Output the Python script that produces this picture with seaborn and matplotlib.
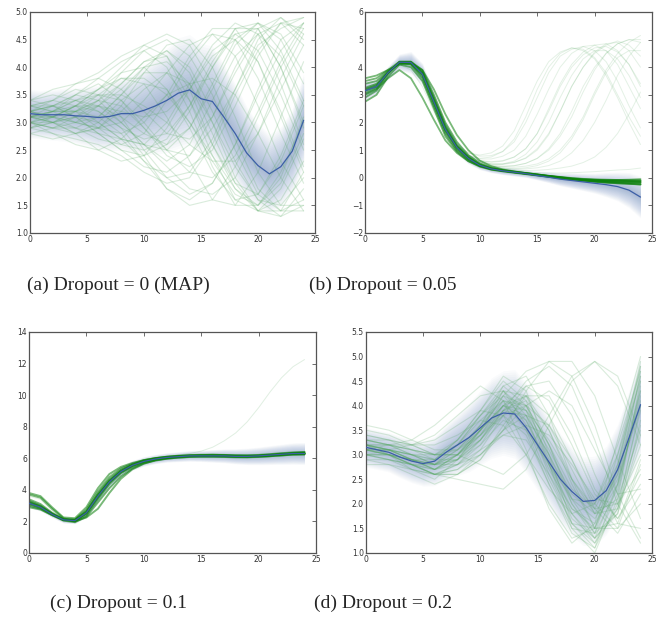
import numpy as np
import pandas as pd
import matplotlib
matplotlib.use("Agg")
import matplotlib.pyplot as plt
import seaborn as sns

## x grids
x_full = list(range(25))          # 0..24
x_half = list(range(0, 25, 2))    # 0,2,..,24

## ---- panel (a) dropout = 0 (MAP) ----
mean_a = [3.16, 3.14, 3.14, 3.14, 3.12, 3.11, 3.09, 3.11, 3.16, 3.16, 3.22, 3.30, 3.40,
          3.53, 3.59, 3.43, 3.38, 3.10, 2.80, 2.45, 2.22, 2.07, 2.20, 2.48, 3.04]
std_a = [0.22, 0.22, 0.23, 0.24, 0.25, 0.27, 0.29, 0.31, 0.33, 0.36, 0.40, 0.44, 0.47,
         0.50, 0.50, 0.50, 0.50, 0.48, 0.45, 0.42, 0.38, 0.36, 0.36, 0.38, 0.42]
samples_a = [
    [3.1, 3.2, 3.4, 3.3, 3.0, 2.6, 2.3, 2.6, 3.4, 4.2, 4.6, 4.2, 3.3],
    [3.0, 2.9, 3.0, 3.3, 3.7, 4.1, 4.2, 3.6, 2.6, 1.8, 1.5, 1.9, 2.8],
    [3.3, 3.4, 3.6, 3.5, 3.1, 2.5, 2.0, 1.7, 1.9, 2.6, 3.5, 4.3, 4.8],
    [3.2, 3.1, 2.9, 2.7, 2.6, 2.8, 3.4, 4.1, 4.6, 4.5, 3.8, 2.8, 1.9],
    [2.9, 2.8, 2.7, 2.6, 2.4, 2.1, 1.9, 2.0, 2.6, 3.5, 4.3, 4.8, 4.7],
    [3.4, 3.6, 3.7, 3.9, 4.2, 4.4, 4.2, 3.4, 2.4, 1.6, 1.4, 1.8, 2.7],
    [3.1, 3.0, 3.2, 3.5, 3.8, 3.7, 3.1, 2.3, 1.6, 1.5, 2.1, 3.1, 4.1],
    [3.0, 3.1, 3.3, 3.6, 4.0, 4.4, 4.6, 4.4, 3.7, 2.7, 1.8, 1.4, 1.6],
    [3.2, 3.3, 3.1, 2.8, 2.5, 2.4, 2.6, 3.2, 4.0, 4.7, 4.8, 4.3, 3.4],
    [3.1, 3.2, 3.3, 3.2, 2.9, 2.4, 1.8, 1.5, 1.6, 2.2, 3.1, 4.0, 4.7],
    [2.8, 2.9, 3.1, 3.4, 3.9, 4.3, 4.5, 4.2, 3.5, 2.5, 1.7, 1.4, 1.4],
    [3.3, 3.2, 3.0, 2.9, 3.0, 3.4, 3.9, 4.4, 4.6, 4.2, 3.3, 2.3, 1.6],
    [3.0, 2.9, 2.8, 2.9, 3.2, 3.6, 3.9, 3.7, 3.0, 2.2, 1.6, 1.5, 2.0],
    [3.2, 3.4, 3.7, 3.8, 3.6, 3.2, 2.8, 2.7, 3.1, 3.9, 4.6, 4.8, 4.4],
    [3.1, 3.0, 2.9, 2.8, 2.7, 2.6, 2.2, 1.8, 1.7, 2.0, 2.8, 3.8, 4.6],
    [3.0, 3.2, 3.5, 3.7, 3.4, 2.9, 2.5, 2.4, 2.9, 3.6, 4.4, 4.7, 4.9],
    [3.2, 3.1, 3.0, 3.1, 3.5, 4.0, 4.3, 4.0, 3.2, 2.3, 1.6, 1.3, 1.5],
    [2.9, 3.0, 3.2, 3.3, 3.1, 2.8, 2.6, 2.9, 3.6, 4.4, 4.8, 4.5, 3.7],
    [3.3, 3.3, 3.4, 3.6, 3.9, 4.0, 3.6, 2.9, 2.1, 1.6, 1.7, 2.4, 3.4],
    [3.0, 2.8, 2.6, 2.5, 2.7, 3.1, 3.5, 3.7, 3.8, 3.5, 2.8, 2.0, 1.4],
    [3.1, 3.2, 3.2, 3.1, 2.8, 2.3, 1.8, 1.6, 1.9, 2.6, 3.6, 4.5, 4.8],
    [3.2, 3.1, 3.3, 3.6, 3.8, 3.8, 3.5, 3.0, 2.4, 1.8, 1.4, 1.6, 2.3],
    [3.1, 3.1, 3.0, 2.9, 2.8, 3.0, 3.5, 4.2, 4.7, 4.7, 4.1, 3.1, 2.1],
    [3.4, 3.5, 3.4, 3.2, 2.9, 2.7, 2.8, 3.3, 4.0, 4.6, 4.7, 4.0, 3.0],
    [3.0, 3.1, 3.3, 3.5, 3.4, 3.0, 2.5, 2.1, 2.0, 2.4, 3.2, 4.1, 4.8],
    [3.2, 3.0, 2.8, 2.9, 3.3, 3.9, 4.4, 4.5, 4.0, 3.1, 2.1, 1.5, 1.5],
    [3.1, 3.3, 3.5, 3.4, 3.0, 2.6, 2.5, 2.9, 3.7, 4.5, 4.8, 4.6, 3.9],
    [2.9, 3.0, 3.1, 3.0, 2.7, 2.3, 2.0, 2.1, 2.7, 3.6, 4.5, 4.9, 4.6],
    [3.3, 3.2, 3.2, 3.4, 3.7, 4.1, 4.3, 3.9, 3.0, 2.0, 1.4, 1.4, 2.1],
    [3.0, 2.9, 2.9, 3.1, 3.5, 3.9, 3.9, 3.4, 2.6, 1.9, 1.7, 2.3, 3.3],
    [3.2, 3.3, 3.5, 3.8, 4.1, 4.3, 4.0, 3.2, 2.2, 1.5, 1.5, 2.1, 3.0],
    [3.1, 3.0, 2.8, 2.5, 2.3, 2.4, 2.9, 3.6, 4.3, 4.6, 4.3, 3.5, 2.5],
    [3.3, 3.4, 3.3, 3.0, 2.7, 2.6, 3.0, 3.7, 4.4, 4.8, 4.6, 3.7, 2.6],
    [2.8, 2.7, 2.8, 3.0, 3.4, 3.7, 3.6, 3.0, 2.3, 1.7, 1.5, 2.0, 3.1],
    [3.1, 3.1, 3.2, 3.4, 3.3, 2.9, 2.4, 2.2, 2.5, 3.3, 4.2, 4.8, 4.9],
    [3.2, 3.3, 3.2, 2.9, 2.6, 2.5, 2.7, 3.3, 4.1, 4.7, 4.7, 4.0, 2.9],
    [3.0, 3.0, 3.1, 3.3, 3.6, 4.0, 4.1, 3.7, 2.8, 1.9, 1.4, 1.3, 1.8],
    [3.4, 3.3, 3.1, 2.8, 2.5, 2.2, 2.1, 2.4, 3.1, 4.0, 4.7, 4.9, 4.5],
    [3.1, 3.2, 3.4, 3.5, 3.5, 3.3, 3.0, 2.6, 2.3, 2.3, 2.8, 3.6, 4.4],
    [2.9, 3.1, 3.3, 3.3, 3.2, 3.1, 3.2, 3.6, 4.2, 4.5, 4.1, 3.2, 2.2],
]

## ---- panel (b) dropout = 0.05 ----
mean_b = [3.15, 3.30, 3.80, 4.18, 4.17, 3.75, 2.75, 1.75, 1.10, 0.70, 0.45, 0.32, 0.25,
          0.20, 0.15, 0.08, 0.02, -0.05, -0.10, -0.15, -0.20, -0.25, -0.32, -0.45, -0.70]
std_b = [0.20, 0.15, 0.12, 0.15, 0.20, 0.20, 0.18, 0.15, 0.12, 0.10, 0.08, 0.07, 0.07,
         0.07, 0.07, 0.08, 0.10, 0.12, 0.14, 0.16, 0.18, 0.22, 0.26, 0.32, 0.38]
bundle_b = [
    [3.15, 3.3, 3.8, 4.18, 4.17, 3.75, 2.75, 1.75, 1.1, 0.7, 0.45, 0.32, 0.25, 0.2, 0.15, 0.1, 0.05, 0.0, -0.05, -0.08, -0.1, -0.12, -0.13, -0.14, -0.15],
    [3.4, 3.5, 3.85, 4.15, 4.1, 3.6, 2.6, 1.6, 1.0, 0.65, 0.42, 0.3, 0.24, 0.19, 0.14, 0.09, 0.04, -0.01, -0.06, -0.1, -0.13, -0.16, -0.18, -0.2, -0.22],
    [2.9, 3.15, 3.75, 4.2, 4.2, 3.85, 2.9, 1.9, 1.2, 0.75, 0.48, 0.34, 0.26, 0.21, 0.16, 0.11, 0.06, 0.01, -0.04, -0.07, -0.09, -0.1, -0.1, -0.1, -0.1],
    [3.6, 3.7, 3.9, 4.1, 4.0, 3.5, 2.5, 1.5, 0.95, 0.6, 0.4, 0.29, 0.23, 0.18, 0.13, 0.08, 0.03, -0.02, -0.07, -0.11, -0.15, -0.18, -0.2, -0.22, -0.25],
    [2.75, 3.0, 3.65, 4.1, 4.15, 3.9, 3.0, 2.0, 1.3, 0.82, 0.52, 0.36, 0.28, 0.22, 0.17, 0.12, 0.07, 0.02, -0.03, -0.06, -0.08, -0.09, -0.08, -0.07, -0.05],
    [3.25, 3.4, 3.82, 4.16, 4.12, 3.7, 2.7, 1.7, 1.05, 0.68, 0.44, 0.31, 0.25, 0.2, 0.15, 0.1, 0.05, 0.0, -0.05, -0.09, -0.12, -0.14, -0.16, -0.17, -0.18],
    [3.0, 3.2, 3.6, 3.9, 3.6, 2.9, 2.1, 1.35, 0.9, 0.6, 0.42, 0.32, 0.26, 0.21, 0.16, 0.11, 0.06, 0.01, -0.04, -0.08, -0.11, -0.13, -0.14, -0.15, -0.16],
    [3.5, 3.6, 3.9, 4.2, 4.2, 3.9, 3.2, 2.3, 1.55, 1.0, 0.62, 0.42, 0.3, 0.23, 0.17, 0.12, 0.07, 0.03, -0.01, -0.04, -0.06, -0.07, -0.08, -0.09, -0.1],
    [3.2, 3.35, 3.8, 4.17, 4.16, 3.78, 2.8, 1.8, 1.12, 0.72, 0.46, 0.33, 0.26, 0.2, 0.15, 0.1, 0.04, -0.01, -0.06, -0.1, -0.14, -0.17, -0.2, -0.22, -0.24],
    [3.05, 3.25, 3.78, 4.18, 4.18, 3.8, 2.85, 1.85, 1.15, 0.74, 0.47, 0.34, 0.27, 0.22, 0.17, 0.12, 0.06, 0.02, -0.02, -0.05, -0.07, -0.09, -0.11, -0.12, -0.13],
]
diverge_b = [
    [3.2, 3.35, 3.8, 4.1, 3.9, 3.3, 2.4, 1.6, 1.15, 0.9, 0.82, 0.9, 1.15, 1.7, 2.6, 3.5, 4.2, 4.55, 4.7, 4.6, 4.3, 3.7, 2.9, 2.0, 1.2],
    [3.1, 3.3, 3.8, 4.15, 4.05, 3.5, 2.55, 1.7, 1.2, 0.9, 0.78, 0.8, 0.95, 1.3, 2.0, 2.9, 3.8, 4.4, 4.65, 4.75, 4.6, 4.2, 3.5, 2.6, 1.8],
    [3.2, 3.35, 3.8, 4.15, 4.1, 3.6, 2.65, 1.72, 1.15, 0.82, 0.68, 0.68, 0.78, 1.0, 1.5, 2.3, 3.2, 4.0, 4.5, 4.75, 4.8, 4.6, 4.1, 3.3, 2.5],
    [3.3, 3.4, 3.85, 4.15, 4.1, 3.6, 2.6, 1.65, 1.1, 0.78, 0.62, 0.58, 0.62, 0.75, 1.05, 1.6, 2.5, 3.4, 4.1, 4.55, 4.8, 4.85, 4.6, 4.1, 3.3],
    [3.0, 3.2, 3.75, 4.15, 4.1, 3.7, 2.75, 1.8, 1.18, 0.8, 0.6, 0.5, 0.5, 0.56, 0.7, 1.0, 1.55, 2.4, 3.3, 4.0, 4.5, 4.8, 4.95, 4.8, 4.4],
    [3.15, 3.3, 3.8, 4.18, 4.15, 3.72, 2.72, 1.72, 1.1, 0.75, 0.55, 0.45, 0.42, 0.44, 0.52, 0.7, 1.05, 1.6, 2.4, 3.3, 4.0, 4.5, 4.85, 5.0, 5.0],
    [3.2, 3.35, 3.8, 4.15, 4.12, 3.7, 2.7, 1.72, 1.1, 0.74, 0.52, 0.42, 0.38, 0.38, 0.42, 0.5, 0.68, 1.0, 1.5, 2.2, 3.1, 3.9, 4.5, 4.9, 5.15],
    [3.1, 3.3, 3.8, 4.16, 4.14, 3.74, 2.76, 1.76, 1.12, 0.74, 0.5, 0.38, 0.33, 0.31, 0.32, 0.36, 0.44, 0.6, 0.9, 1.35, 2.0, 2.8, 3.7, 4.4, 4.9],
    [3.25, 3.38, 3.82, 4.16, 4.12, 3.7, 2.7, 1.7, 1.08, 0.72, 0.5, 0.39, 0.34, 0.33, 0.36, 0.44, 0.6, 0.9, 1.4, 2.1, 3.0, 3.8, 4.35, 4.6, 4.6],
    [3.05, 3.25, 3.78, 4.15, 4.13, 3.76, 2.8, 1.8, 1.15, 0.78, 0.58, 0.5, 0.5, 0.6, 0.85, 1.3, 2.0, 2.9, 3.7, 4.3, 4.6, 4.6, 4.3, 3.7, 2.9],
    [3.2, 3.35, 3.8, 4.15, 4.1, 3.65, 2.65, 1.68, 1.1, 0.8, 0.7, 0.75, 0.95, 1.4, 2.2, 3.2, 4.0, 4.5, 4.7, 4.65, 4.35, 3.8, 3.0, 2.2, 1.5],
    [3.15, 3.3, 3.8, 4.17, 4.14, 3.72, 2.72, 1.72, 1.1, 0.72, 0.48, 0.36, 0.3, 0.27, 0.26, 0.27, 0.3, 0.35, 0.42, 0.55, 0.75, 1.1, 1.6, 2.3, 3.1],
    [3.15, 3.3, 3.8, 4.17, 4.15, 3.74, 2.74, 1.74, 1.1, 0.71, 0.47, 0.34, 0.27, 0.23, 0.2, 0.18, 0.17, 0.17, 0.18, 0.2, 0.22, 0.25, 0.28, 0.3, 0.35],
    [3.1, 3.3, 3.8, 4.16, 4.13, 3.7, 2.7, 1.7, 1.1, 0.75, 0.56, 0.48, 0.48, 0.55, 0.72, 1.05, 1.6, 2.4, 3.3, 4.0, 4.55, 4.85, 4.9, 4.6, 4.0],
    [3.2, 3.35, 3.82, 4.16, 4.12, 3.72, 2.72, 1.72, 1.1, 0.73, 0.52, 0.42, 0.4, 0.43, 0.52, 0.7, 1.0, 1.5, 2.2, 3.1, 3.9, 4.5, 4.85, 5.0, 4.9],
    [3.0, 3.2, 3.75, 4.14, 4.12, 3.72, 2.75, 1.78, 1.16, 0.8, 0.62, 0.56, 0.6, 0.75, 1.05, 1.6, 2.4, 3.3, 4.0, 4.45, 4.7, 4.75, 4.55, 4.1, 3.4],
]

## ---- panel (c) dropout = 0.1 ----
mean_c = [3.15, 2.90, 2.45, 2.10, 2.05, 2.55, 3.60, 4.50, 5.15, 5.55, 5.80, 5.95, 6.05,
          6.10, 6.15, 6.15, 6.15, 6.15, 6.12, 6.12, 6.15, 6.20, 6.25, 6.30, 6.30]
std_c = [0.15, 0.12, 0.10, 0.10, 0.10, 0.15, 0.20, 0.20, 0.18, 0.16, 0.15, 0.15, 0.15,
         0.16, 0.17, 0.18, 0.20, 0.22, 0.24, 0.26, 0.28, 0.30, 0.32, 0.34, 0.35]
bundle_c = [
    [3.1, 2.85, 2.45, 2.1, 2.05, 2.5, 3.5, 4.45, 5.1, 5.5, 5.78, 5.93, 6.03, 6.1, 6.14, 6.15, 6.15, 6.14, 6.12, 6.12, 6.14, 6.18, 6.23, 6.28, 6.3],
    [3.3, 3.0, 2.5, 2.12, 2.1, 2.65, 3.75, 4.65, 5.25, 5.6, 5.86, 6.0, 6.1, 6.16, 6.2, 6.22, 6.22, 6.21, 6.19, 6.19, 6.21, 6.26, 6.32, 6.37, 6.4],
    [3.0, 2.8, 2.4, 2.08, 2.0, 2.4, 3.4, 4.35, 5.05, 5.46, 5.72, 5.88, 5.98, 6.04, 6.08, 6.09, 6.09, 6.08, 6.06, 6.06, 6.08, 6.13, 6.18, 6.23, 6.24],
    [3.4, 3.1, 2.55, 2.15, 2.12, 2.75, 3.9, 4.8, 5.35, 5.65, 5.88, 6.01, 6.09, 6.14, 6.18, 6.19, 6.19, 6.18, 6.16, 6.16, 6.18, 6.23, 6.29, 6.34, 6.38],
    [3.7, 3.5, 2.8, 2.2, 2.0, 2.25, 2.8, 3.8, 4.7, 5.3, 5.65, 5.88, 6.0, 6.08, 6.13, 6.15, 6.16, 6.16, 6.14, 6.13, 6.14, 6.18, 6.24, 6.3, 6.32],
    [3.8, 3.6, 2.9, 2.25, 2.2, 2.9, 4.1, 5.0, 5.45, 5.7, 5.88, 6.0, 6.08, 6.13, 6.17, 6.2, 6.22, 6.2, 6.17, 6.15, 6.15, 6.18, 6.23, 6.28, 6.3],
    [3.2, 2.95, 2.47, 2.1, 2.06, 2.58, 3.65, 4.55, 5.18, 5.56, 5.81, 5.96, 6.05, 6.1, 6.15, 6.15, 6.15, 6.15, 6.12, 6.12, 6.15, 6.2, 6.25, 6.3, 6.3],
    [2.9, 2.75, 2.4, 2.05, 1.95, 2.3, 3.2, 4.1, 4.85, 5.35, 5.68, 5.85, 5.97, 6.04, 6.09, 6.11, 6.11, 6.1, 6.08, 6.07, 6.09, 6.13, 6.18, 6.23, 6.25],
    [3.15, 2.9, 2.45, 2.1, 2.04, 2.52, 3.58, 4.5, 5.14, 5.54, 5.8, 5.95, 6.05, 6.1, 6.15, 6.16, 6.16, 6.15, 6.13, 6.13, 6.16, 6.21, 6.26, 6.31, 6.32],
    [3.25, 2.95, 2.48, 2.12, 2.08, 2.6, 3.68, 4.58, 5.2, 5.58, 5.82, 5.96, 6.05, 6.1, 6.14, 6.14, 6.14, 6.13, 6.11, 6.11, 6.14, 6.19, 6.24, 6.29, 6.29],
]
outlier_c = [3.6, 3.4, 2.7, 2.15, 2.1, 2.7, 3.7, 4.6, 5.2, 5.6, 5.85, 6.0, 6.1,
             6.2, 6.3, 6.45, 6.7, 7.1, 7.6, 8.3, 9.2, 10.2, 11.1, 11.8, 12.25]

## ---- panel (d) dropout = 0.2 ----
mean_d = [3.15, 3.10, 3.05, 2.95, 2.87, 2.82, 2.87, 3.05, 3.20, 3.35, 3.55, 3.75, 3.85,
          3.83, 3.55, 3.20, 2.85, 2.50, 2.25, 2.05, 2.07, 2.27, 2.70, 3.35, 4.02]
std_d = [0.20, 0.20, 0.20, 0.21, 0.22, 0.23, 0.25, 0.28, 0.31, 0.35, 0.38, 0.41, 0.43,
         0.45, 0.46, 0.46, 0.46, 0.46, 0.45, 0.45, 0.45, 0.45, 0.46, 0.48, 0.50]
samples_d = [
    [3.2, 3.1, 2.9, 2.8, 3.1, 3.6, 4.3, 3.9, 2.8, 1.7, 1.3, 2.4, 4.2],
    [3.0, 2.9, 2.8, 2.7, 3.0, 3.5, 4.0, 3.7, 2.8, 1.9, 1.5, 2.6, 4.6],
    [3.3, 3.2, 3.0, 2.9, 3.3, 3.9, 4.6, 4.3, 3.0, 1.6, 1.1, 2.0, 3.9],
    [3.1, 3.1, 3.0, 3.0, 3.2, 3.7, 4.1, 3.5, 2.4, 1.5, 1.4, 2.8, 4.9],
    [3.2, 3.0, 2.7, 2.5, 2.9, 3.5, 4.2, 4.0, 3.2, 2.1, 1.4, 1.8, 3.4],
    [3.4, 3.3, 3.2, 3.3, 3.6, 3.9, 3.8, 3.0, 2.0, 1.3, 1.5, 3.0, 4.8],
    [2.9, 2.8, 2.6, 2.4, 2.6, 3.0, 3.5, 3.8, 3.6, 2.9, 2.0, 1.5, 2.0],
    [3.1, 3.2, 3.3, 3.6, 4.0, 4.4, 4.1, 3.1, 1.9, 1.2, 1.6, 3.3, 5.0],
    [3.0, 3.0, 2.9, 2.8, 2.9, 3.2, 3.9, 4.5, 4.8, 4.4, 3.3, 2.0, 1.2],
    [3.2, 3.1, 2.9, 2.7, 2.8, 3.3, 3.9, 4.2, 3.8, 2.9, 1.9, 1.4, 2.2],
    [3.3, 3.3, 3.2, 3.0, 3.1, 3.5, 4.2, 4.7, 4.9, 4.6, 3.6, 2.2, 1.3],
    [3.1, 3.0, 2.8, 2.6, 2.8, 3.1, 3.4, 3.3, 2.6, 1.8, 1.3, 1.9, 3.6],
    [3.0, 3.1, 3.2, 3.4, 3.8, 4.2, 4.3, 3.6, 2.5, 1.6, 1.2, 2.2, 4.4],
    [3.2, 3.2, 3.1, 3.0, 3.0, 2.8, 2.6, 3.0, 3.8, 4.6, 4.9, 4.4, 3.2],
    [3.1, 3.0, 2.8, 2.6, 2.6, 2.9, 3.5, 4.3, 4.9, 4.9, 4.2, 2.9, 1.7],
    [3.3, 3.2, 3.0, 2.8, 3.0, 3.4, 3.8, 3.4, 2.4, 1.4, 1.1, 2.4, 4.7],
    [2.8, 2.8, 2.7, 2.6, 2.7, 3.1, 3.8, 4.4, 4.5, 3.8, 2.6, 1.6, 1.5],
    [3.2, 3.1, 3.0, 2.9, 3.2, 3.8, 4.4, 4.0, 2.9, 1.8, 1.2, 1.9, 4.0],
    [3.6, 3.5, 3.3, 3.1, 3.1, 3.4, 3.9, 4.1, 3.5, 2.4, 1.5, 1.6, 2.9],
    [3.0, 3.0, 2.9, 2.9, 3.3, 3.9, 4.5, 4.1, 2.8, 1.5, 1.0, 2.1, 4.5],
    [3.1, 3.0, 2.8, 2.6, 2.5, 2.4, 2.3, 2.7, 3.6, 4.5, 4.9, 4.6, 3.4],
    [3.2, 3.1, 3.0, 2.8, 3.0, 3.5, 4.0, 3.8, 3.0, 2.0, 1.4, 2.3, 4.3],
    [3.1, 3.0, 2.9, 2.8, 2.9, 3.3, 3.9, 3.8, 3.0, 2.1, 1.7, 2.5, 4.0],
    [3.0, 3.0, 2.9, 2.8, 3.1, 3.6, 4.1, 3.9, 3.1, 2.2, 1.8, 2.6, 4.3],
    [3.3, 3.2, 3.1, 3.0, 3.0, 3.4, 4.0, 4.2, 3.5, 2.5, 1.8, 2.1, 3.5],
    [3.2, 3.1, 2.9, 2.7, 2.9, 3.4, 4.1, 4.0, 3.2, 2.3, 1.9, 2.8, 4.6],
    [3.0, 2.9, 2.7, 2.6, 2.8, 3.2, 3.7, 3.5, 2.8, 2.1, 2.0, 3.0, 4.5],
    [3.4, 3.3, 3.1, 2.9, 2.9, 3.3, 4.0, 4.4, 4.1, 3.2, 2.2, 1.7, 2.6],
    [3.1, 3.1, 3.0, 2.8, 2.8, 3.0, 3.5, 4.0, 4.3, 4.0, 3.1, 2.2, 2.3],
    [3.2, 3.1, 2.9, 2.7, 2.9, 3.5, 4.3, 4.2, 3.2, 2.0, 1.3, 1.8, 3.7],
    [2.9, 2.9, 2.8, 2.8, 3.2, 3.8, 4.3, 3.8, 2.6, 1.6, 1.5, 2.7, 4.8],
    [3.3, 3.2, 3.1, 3.0, 3.3, 3.8, 4.2, 3.7, 2.7, 1.9, 1.6, 2.4, 4.1],
    [3.1, 3.0, 2.8, 2.6, 2.6, 2.9, 3.6, 4.2, 4.2, 3.4, 2.3, 1.7, 2.4],
    [3.2, 3.2, 3.2, 3.2, 3.4, 3.7, 3.6, 3.0, 2.3, 1.8, 2.0, 3.2, 4.7],
    [3.0, 2.9, 2.8, 2.7, 3.0, 3.5, 4.0, 3.9, 3.3, 2.5, 1.9, 2.0, 3.0],
    [3.2, 3.0, 2.8, 2.6, 2.7, 3.0, 3.4, 3.6, 3.4, 2.8, 2.1, 2.0, 2.7],
    [3.5, 3.4, 3.2, 3.0, 3.0, 3.3, 3.8, 4.0, 3.6, 2.7, 1.8, 1.9, 3.2],
    [3.1, 3.1, 2.9, 2.7, 3.0, 3.6, 4.4, 4.6, 3.8, 2.5, 1.5, 1.5, 2.8],
]

captions = ["(a) Dropout = 0 (MAP)", "(b) Dropout = 0.05",
            "(c) Dropout = 0.1", "(d) Dropout = 0.2"]
ylims = [(1.0, 5.0), (-2, 6), (0, 14), (1.0, 5.5)]
ysteps = [0.5, 1, 2, 0.5]


def long_df(curves, xs):
    rows = []
    for k, c in enumerate(curves):
        for xv, yv in zip(xs, c):
            rows.append((k, xv, yv))
    return pd.DataFrame(rows, columns=["sample", "x", "y"])


## global settings
sns.set_style("white")
plt.rcParams.update({
    "xtick.direction": "in", "ytick.direction": "in",
    "xtick.top": True, "ytick.right": True,
    "xtick.major.size": 3, "ytick.major.size": 3,
    "xtick.major.width": 0.6, "ytick.major.width": 0.6,
    "axes.edgecolor": "#555555", "axes.linewidth": 0.9,
    "axes.unicode_minus": True,
})

fig = plt.figure(figsize=(6.64, 6.2), dpi=100)
rects = [[0.0452, 0.6242, 0.4292, 0.3565],
         [0.5497, 0.6242, 0.4322, 0.3565],
         [0.0437, 0.1081, 0.4322, 0.3565],
         [0.5512, 0.1081, 0.4307, 0.3565]]
axes = [fig.add_axes(r) for r in rects]

green_light = "#55a860"
green_dark = "#0b800b"
band_col = "#4c72b0"
mean_col = "#3b5fa6"

panels = [
    (mean_a, std_a, [(samples_a, x_half, green_light, 0.22, 0.8)]),
    (mean_b, std_b, [(diverge_b, x_full, green_light, 0.16, 0.7),
                     (bundle_b, x_full, green_dark, 0.55, 1.3)]),
    (mean_c, std_c, [([outlier_c], x_full, green_light, 0.18, 0.7),
                     (bundle_c, x_full, green_dark, 0.55, 1.4)]),
    (mean_d, std_d, [(samples_d, x_half, green_light, 0.22, 0.8)]),
]

for i, ax in enumerate(axes):
    mean, std, groups = panels[i]
    ## layered uncertainty band (behind the samples)
    m = np.array(mean)
    s = np.array(std)
    for k in np.linspace(0.1, 2.0, 20):
        ax.fill_between(x_full, m - k * s, m + k * s, color=band_col,
                        alpha=0.026, lw=0, zorder=1)
    ## green sample traces
    for curves, xs, col, a, lw in groups:
        sns.lineplot(data=long_df(curves, xs), x="x", y="y", units="sample",
                     estimator=None, color=col, alpha=a, lw=lw, ax=ax,
                     legend=False, zorder=2)
    ## mean line
    sns.lineplot(x=x_full, y=mean, color=mean_col, lw=0.9, ax=ax, zorder=4)

    ax.set_xlim(0, 25)
    ax.set_ylim(*ylims[i])
    ax.set_xticks(range(0, 26, 5))
    lo, hi = ylims[i]
    ax.set_yticks(np.arange(lo, hi + 1e-9, ysteps[i]))
    if ysteps[i] < 1:
        ax.set_yticklabels([f"{v:.1f}" for v in ax.get_yticks()])
    ax.set_xlabel("")
    ax.set_ylabel("")
    ax.tick_params(labelsize=5.5, labelcolor="#333333", pad=1.5,
                   color="#555555")

## captions
cap_pos = [(118 / 664, 0.540), (383 / 664, 0.540),
           (118 / 664, 0.027), (383 / 664, 0.027)]
for (cx, cy), txt in zip(cap_pos, captions):
    fig.text(cx, cy, txt, ha="center", va="center",
             family=["Liberation Serif", "DejaVu Serif"], fontsize=14)

fig.savefig("out.png", dpi=100)
